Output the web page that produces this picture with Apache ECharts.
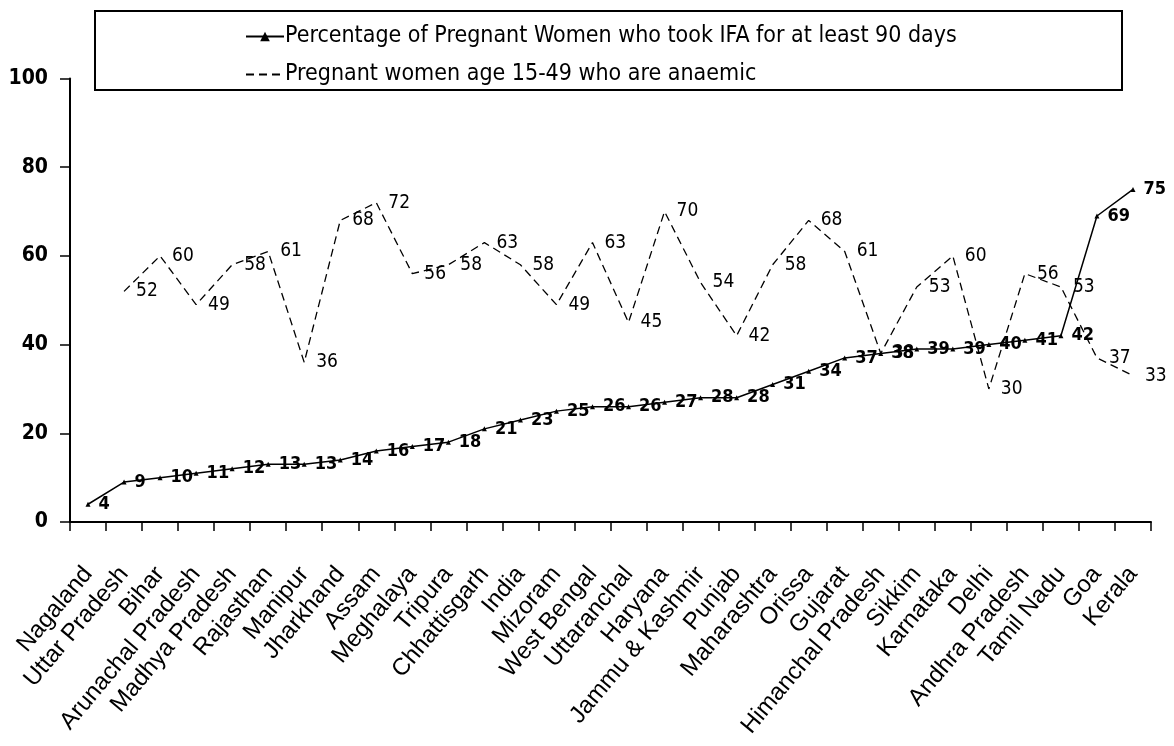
<!DOCTYPE html>
<html>
<head>
<meta charset="utf-8">
<script src="https://cdn.jsdelivr.net/npm/echarts@6/dist/echarts.min.js"></script>
<style>
html,body{margin:0;padding:0;background:#fff;}
#chart{width:1174px;height:746px;}
</style>
</head>
<body>
<div id="chart"></div>
<script>
const categories = ["Nagaland","Uttar Pradesh","Bihar","Arunachal Pradesh","Madhya Pradesh","Rajasthan","Manipur","Jharkhand","Assam","Meghalaya","Tripura","Chhattisgarh","India","Mizoram","West Bengal","Uttaranchal","Haryana","Jammu & Kashmir","Punjab","Maharashtra","Orissa","Gujarat","Himanchal Pradesh","Sikkim","Karnataka","Delhi","Andhra Pradesh","Tamil Nadu","Goa","Kerala"];
const ifaValues = [4,9,10,11,12,13,13,14,16,17,18,21,23,25,26,26,27,28,28,31,34,37,38,39,39,40,41,42,69,75];
const anaemicValues = [null,52,60,49,58,61,36,68,72,56,58,63,58,49,63,45,70,54,42,58,68,61,38,53,60,30,56,53,37,33];
const yTicks = [0,20,40,60,80,100];
const seriesNames = ["Percentage of Pregnant Women who took IFA for at least 90 days","Pregnant women age 15-49 who are anaemic"];

const NARROW = '"DejaVu Sans Condensed", "Liberation Sans", sans-serif';
const chart = echarts.init(document.getElementById('chart'), null, {renderer:'canvas'});
chart.setOption({
  backgroundColor:'#fff',
  animation:false,
  textStyle:{fontFamily:NARROW,color:'#000'},
  graphic:[{type:'rect',shape:{x:95,y:11,width:1027,height:79},style:{fill:'none',stroke:'#000',lineWidth:2},z:10}],
  legend:{
    orient:'vertical',left:240,top:20,itemWidth:38,itemHeight:12,itemGap:15,
    textStyle:{fontFamily:NARROW,fontSize:23,color:'#000',padding:[0,0,0,-4]},
    data:[{name:seriesNames[0]},{name:seriesNames[1],itemStyle:{opacity:0}}]
  },
  grid:{left:70,right:23,top:78.5,bottom:224,containLabel:false},
  xAxis:{
    type:'category',data:categories,boundaryGap:true,
    axisLine:{lineStyle:{color:'#000',width:2}},
    axisTick:{show:true,length:9,lineStyle:{color:'#000',width:1.5}},
    axisLabel:{interval:0,rotate:50,margin:48,fontFamily:'"Liberation Sans", Arial, sans-serif',fontSize:24,color:'#000'}
  },
  yAxis:{
    type:'value',min:yTicks[0],max:yTicks[yTicks.length-1],interval:20,
    splitLine:{show:false},
    axisLine:{show:true,lineStyle:{color:'#000',width:2}},
    axisTick:{show:true,length:10,lineStyle:{color:'#000',width:1.5}},
    axisLabel:{margin:22,fontFamily:NARROW,fontSize:21,fontWeight:'bold',color:'#000'}
  },
  series:[
    {name:seriesNames[0],type:'line',data:ifaValues,symbol:'triangle',symbolSize:5,
     itemStyle:{color:'#000'},lineStyle:{color:'#000',width:1.5},
     label:{show:true,position:'right',distance:8,fontFamily:NARROW,fontSize:18,fontWeight:'bold',color:'#000'}},
    {name:seriesNames[1],type:'line',data:anaemicValues,symbol:'circle',symbolSize:0,connectNulls:false,
     itemStyle:{color:'#000'},lineStyle:{color:'#000',width:1.3,type:[8,5]},
     label:{show:true,position:'right',distance:12,fontFamily:NARROW,fontSize:19,color:'#000'}}
  ]
});
</script>
</body>
</html>
